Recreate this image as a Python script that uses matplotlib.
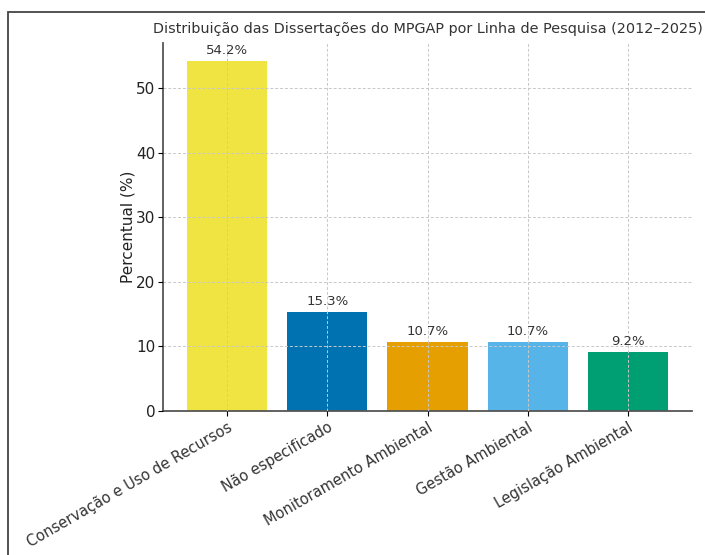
import matplotlib
matplotlib.use("Agg")
import matplotlib.pyplot as plt
from matplotlib.patches import Rectangle

categories = ["Conservação e Uso de Recursos", "Não especificado",
              "Monitoramento Ambiental", "Gestão Ambiental", "Legislação Ambiental"]
values = [54.2, 15.3, 10.7, 10.7, 9.2]
colors = ["#F0E442", "#0072B2", "#E69F00", "#56B4E9", "#009E73"]
yticks = [0, 10, 20, 30, 40, 50]

W, H = 705, 555
fig = plt.figure(figsize=(W / 100, H / 100), dpi=100)
ax = fig.add_axes([163 / W, 1 - 411 / H, (692 - 163) / W, (411 - 43) / H])

x = list(range(len(categories)))
bars = ax.bar(x, values, color=colors, width=0.8, zorder=2)
for xi, v in zip(x, values):
    ax.text(xi, v + 0.6, f"{v}%", ha="center", va="bottom", fontsize=9.5, color="#333333")

ax.set_xticks(x)
ax.set_xticklabels(categories, rotation=30, ha="right", rotation_mode="anchor", fontsize=10.5, color="#333333")
ax.set_yticks(yticks)
ax.tick_params(axis="y", labelsize=11, labelcolor="#222222", pad=2)
ax.tick_params(axis="x", pad=3)
ax.set_ylim(0, 57)
ax.set_xlim(-0.64, 4.64)
ax.set_ylabel("Percentual (%)", fontsize=11, color="#222222", labelpad=0)
ax.set_title("Distribuição das Dissertações do MPGAP por Linha de Pesquisa (2012–2025)",
             fontsize=10.4, color="#333333", pad=7)
ax.grid(True, linestyle=(0, (3, 2)), color="#c8c8c8", linewidth=0.7, zorder=0)
ax.set_axisbelow(False)
for s in ["top", "right"]:
    ax.spines[s].set_visible(False)
for s in ["left", "bottom"]:
    ax.spines[s].set_color("#555555")
    ax.spines[s].set_linewidth(1.3)

# screenshot frame
fig.patches.append(Rectangle((8 / W, -0.1), 1.2, 1 - 12 / H + 0.1, transform=fig.transFigure,
                             fill=False, edgecolor="#444444", linewidth=1.3, clip_on=False))

fig.savefig("out.png", dpi=100)
